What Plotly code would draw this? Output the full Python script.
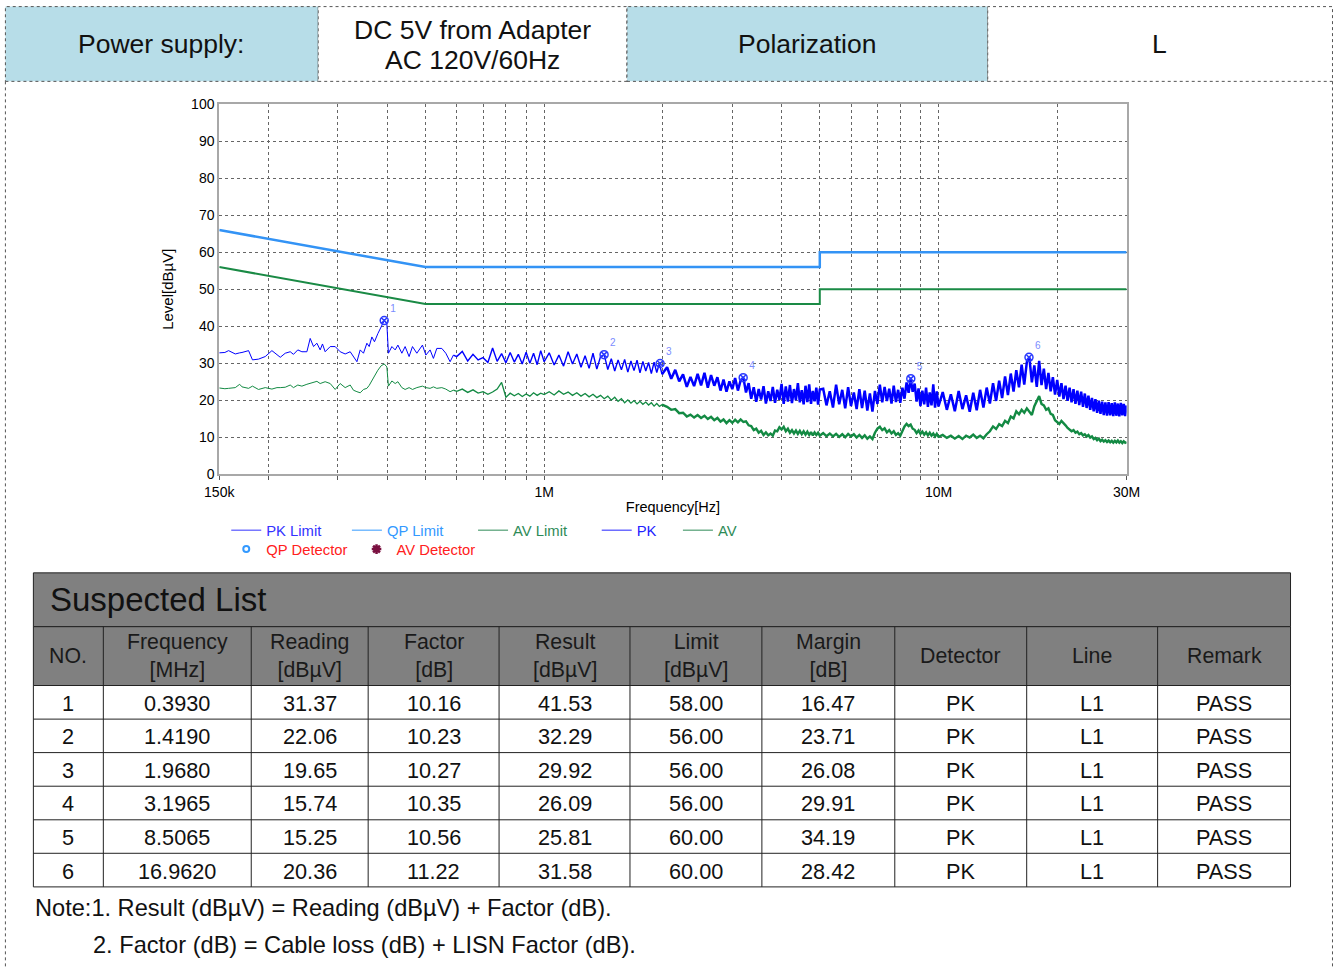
import plotly.graph_objects as go

W, H = 1338, 968
# the photographed page comes back slightly shrunk and centred; these undo that
SX, SY, DX, DY = 0.979, 0.9865, 14.6, 6.4
FONT = "Liberation Sans, Arial, sans-serif"

# ---- sweep data: frequency [MHz], level [dBuV] ----
freq_a = [0.1500, 0.1550, 0.1584, 0.1647, 0.1690, 0.1713, 0.1780, 0.1821, 0.1886, 0.1962,
          0.2040, 0.2101, 0.2142, 0.2205, 0.2270, 0.2314, 0.2373, 0.2430, 0.2502, 0.2551,
          0.2601, 0.2653, 0.2704, 0.2741, 0.2784, 0.2867, 0.2952, 0.3039, 0.3129, 0.3222,
          0.3284, 0.3351, 0.3416, 0.3482, 0.3552, 0.3600, 0.3657, 0.3713, 0.3787, 0.3860,
          0.3912, 0.3930, 0.3991, 0.4028, 0.4110, 0.4190, 0.4257, 0.4357, 0.4441, 0.4545,
          0.4635, 0.4755, 0.4913, 0.5012, 0.5138, 0.5238, 0.5343, 0.5501, 0.5631, 0.5774,
          0.5887]
pk_a = [32.8, 32.9, 33.4, 32.5, 32.8, 32.9, 33.4, 30.9, 31.1, 31.8,
        33.4, 32.2, 31.6, 32.7, 33.1, 32.4, 33.6, 33.1, 33.1, 36.7,
        34.5, 35.4, 33.6, 35.2, 33.1, 34.5, 34.5, 33.1, 32.5, 33.1,
        31.8, 30.4, 33.6, 32.7, 35.4, 34.5, 37.1, 35.8, 38.0, 39.8,
        41.0, 41.5, 40.7, 32.7, 34.5, 33.6, 34.9, 32.7, 34.5, 31.8,
        34.5, 32.7, 34.9, 32.2, 33.6, 31.3, 34.0, 34.0, 32.7, 30.4,
        32.2]
av_a = [23.3, 23.1, 23.2, 23.4, 24.3, 23.6, 23.2, 23.8, 22.9, 23.4,
        23.0, 23.4, 23.4, 23.5, 24.1, 23.4, 24.1, 23.8, 24.3, 24.5,
        24.7, 25.1, 24.5, 24.8, 25.0, 24.5, 22.9, 24.5, 23.4, 24.1,
        22.7, 22.3, 22.0, 22.9, 23.2, 24.0, 25.4, 26.5, 28.1, 29.3,
        29.7, 29.8, 29.0, 23.8, 25.2, 24.5, 25.0, 23.4, 22.9, 23.4,
        22.9, 23.4, 23.8, 23.4, 23.2, 23.6, 23.2, 23.4, 23.0, 22.3,
        22.7]

freq_b1 = [0.60, 0.62, 0.64, 0.66, 0.68, 0.70, 0.72, 0.74, 0.76, 0.78,
           0.80, 0.82, 0.84, 0.86, 0.88, 0.90, 0.92, 0.94, 0.96, 0.98, 1.00]
pk_b1 = [31.8, 33.2, 30.6, 32.4, 30.9, 31.5, 30.2, 34.1, 30.5, 32.6,
         30.1, 32.9, 30.3, 32.4, 29.8, 33.0, 30.0, 32.7, 29.6, 33.4, 30.4]
av_b1 = [22.4, 23.0, 22.1, 22.8, 21.9, 22.3, 21.6, 22.2, 23.0, 24.8,
         20.8, 21.9, 21.2, 21.8, 21.0, 21.7, 21.1, 22.0, 21.3, 21.9, 21.5]

freq_b2 = [1.03, 1.06, 1.09, 1.12, 1.15, 1.18, 1.21, 1.24, 1.27, 1.30,
           1.33, 1.36, 1.39, 1.42, 1.45, 1.48, 1.51, 1.54, 1.57, 1.60,
           1.63, 1.66, 1.69, 1.72, 1.75, 1.78, 1.81, 1.84, 1.87, 1.90,
           1.93, 1.96, 1.99]
pk_b2 = [32.8, 29.5, 32.2, 29.2, 33.1, 29.8, 32.5, 28.9, 32.0, 28.6,
         32.7, 28.4, 31.8, 32.3, 28.3, 31.2, 27.9, 30.9, 28.2, 31.0,
         27.6, 30.6, 28.0, 30.8, 27.4, 30.5, 27.9, 30.2, 27.2, 30.3,
         27.5, 29.9, 27.0]
av_b2 = [22.3, 21.4, 22.5, 21.6, 22.2, 21.3, 22.0, 21.1, 21.8, 20.9,
         21.6, 20.7, 21.3, 20.4, 21.1, 20.0, 20.8, 19.7, 20.4, 19.3,
         20.1, 19.2, 19.9, 19.0, 19.7, 18.9, 19.5, 18.7, 19.3, 18.4,
         19.1, 18.3, 18.8]

freq_c1 = [2.05, 2.10, 2.15, 2.20, 2.25, 2.30, 2.35, 2.40, 2.45, 2.50,
           2.55, 2.60, 2.65, 2.70, 2.75, 2.80, 2.85, 2.90, 2.95, 3.00,
           3.05, 3.10, 3.15, 3.20, 3.25, 3.30, 3.35, 3.40, 3.45, 3.50,
           3.55, 3.60, 3.65, 3.70, 3.75, 3.80, 3.85, 3.90, 3.95, 4.00,
           4.05, 4.10, 4.15, 4.20, 4.25, 4.30, 4.35, 4.40, 4.45, 4.50,
           4.55, 4.60, 4.65, 4.70, 4.75, 4.80, 4.85, 4.90, 4.95, 5.00]
pk_c1 = [28.9, 25.8, 28.2, 25.1, 27.0, 23.6, 26.3, 23.8, 27.1, 24.0,
         27.4, 23.4, 26.8, 23.9, 26.2, 22.6, 25.6, 22.3, 25.1, 23.0,
         26.0, 22.6, 25.4, 26.1, 22.1, 24.6, 20.4, 23.5, 19.6, 23.0,
         20.2, 23.8, 19.1, 22.4, 19.8, 23.6, 19.3, 22.8, 20.1, 24.4,
         19.0, 23.7, 19.6, 24.1, 19.2, 23.0, 20.0, 24.6, 19.4, 22.7,
         18.9, 23.9, 19.5, 24.3, 19.0, 22.5, 19.7, 23.4, 18.8, 22.9]
av_c1 = [18.2, 17.4, 17.6, 16.5, 16.6, 15.6, 16.1, 15.3, 16.0, 15.2,
         15.8, 14.9, 15.5, 14.6, 15.2, 14.2, 14.8, 13.8, 14.6, 13.9,
         14.7, 14.0, 14.8, 14.1, 14.3, 13.2, 13.0, 11.9, 12.3, 11.2,
         11.7, 10.6, 11.3, 10.5, 11.0, 10.4, 11.8, 11.6, 12.7, 12.1,
         12.8, 11.6, 12.3, 11.2, 11.9, 11.0, 11.8, 10.9, 11.7, 10.8,
         11.6, 10.7, 11.5, 10.6, 11.4, 10.5, 11.3, 10.6, 11.2, 10.4]

freq_c2 = [5.1, 5.2, 5.3, 5.4, 5.5, 5.6, 5.7, 5.8, 5.9, 6.0,
           6.1, 6.2, 6.3, 6.4, 6.5, 6.6, 6.7, 6.8, 6.9, 7.0,
           7.1, 7.2, 7.3, 7.4, 7.5, 7.6, 7.7, 7.8, 7.9, 8.0,
           8.1, 8.2, 8.3, 8.4, 8.5, 8.6, 8.7, 8.8, 8.9, 9.0,
           9.1, 9.2, 9.3, 9.4, 9.5, 9.6, 9.7, 9.8, 9.9, 10.0]
pk_c2 = [23.1, 18.6, 22.4, 18.0, 24.2, 18.9, 22.8, 17.8, 23.5, 18.4,
         22.1, 17.6, 23.0, 17.9, 22.6, 17.2, 21.8, 16.9, 22.5, 19.0,
         24.2, 19.4, 23.6, 19.8, 23.1, 19.1, 23.9, 19.5, 22.8, 19.3,
         23.4, 20.4, 24.8, 22.0, 25.8, 22.3, 24.5, 19.6, 23.2, 18.4,
         22.6, 18.9, 23.4, 18.2, 22.1, 18.6, 24.3, 18.0, 22.4, 18.3]
av_c2 = [11.1, 10.3, 11.0, 10.2, 10.9, 10.1, 10.8, 10.0, 10.9, 10.2,
         10.8, 9.9, 10.6, 9.8, 10.5, 9.6, 10.2, 9.5, 11.2, 12.3,
         12.8, 11.9, 12.4, 11.3, 11.9, 11.0, 11.6, 10.6, 11.1, 10.4,
         11.8, 12.9, 13.6, 13.0, 13.4, 12.3, 12.0, 11.1, 11.8, 10.9,
         11.5, 10.7, 11.3, 10.5, 11.2, 10.4, 11.0, 10.2, 10.9, 10.1]

freq_c3 = [10.25, 10.50, 10.75, 11.00, 11.25, 11.50, 11.75, 12.00, 12.25, 12.50,
           12.75, 13.00, 13.25, 13.50, 13.75, 14.00, 14.25, 14.50, 14.75, 15.00,
           15.25, 15.50, 15.75, 16.00, 16.25, 16.50, 16.75, 17.00, 17.25, 17.50,
           17.75, 18.00, 18.25, 18.50, 18.75, 19.00, 19.25, 19.50, 19.75, 20.00,
           20.25, 20.50, 20.75, 21.00, 21.25, 21.50, 21.75, 22.00, 22.25, 22.50,
           22.75, 23.00, 23.25, 23.50, 23.75, 24.00, 24.25, 24.50, 24.75, 25.00,
           25.25, 25.50, 25.75, 26.00, 26.25, 26.50, 26.75, 27.00, 27.25, 27.50,
           27.75, 28.00, 28.25, 28.50, 28.75, 29.00, 29.25, 29.50, 29.75, 30.00]
pk_c3 = [22.2, 17.4, 21.6, 17.0, 22.5, 17.6, 21.3, 16.9, 22.0, 17.3,
         22.8, 18.0, 23.4, 19.1, 24.6, 19.8, 25.3, 20.6, 26.4, 21.4,
         27.2, 22.3, 28.1, 23.5, 29.6, 24.2, 30.3, 31.6, 24.8, 29.4,
         23.6, 30.6, 24.1, 28.5, 23.0, 27.4, 22.4, 26.2, 21.5, 25.5,
         21.0, 24.6, 20.3, 23.9, 19.8, 23.4, 19.4, 23.0, 19.0, 22.6,
         18.7, 22.3, 18.2, 21.8, 17.9, 21.2, 17.4, 20.6, 17.0, 20.3,
         16.6, 19.9, 16.3, 19.6, 16.0, 19.4, 15.8, 19.5, 15.9, 19.2,
         15.7, 19.4, 15.8, 19.1, 15.6, 19.3, 15.9, 19.0, 15.7, 18.6]
av_c3 = [10.6, 9.8, 10.4, 9.6, 10.3, 9.5, 10.4, 9.9, 10.7, 9.8,
         10.4, 9.7, 10.8, 11.6, 12.9, 12.2, 13.5, 13.0, 14.4, 13.8,
         15.6, 15.1, 17.0, 16.2, 17.4, 16.6, 17.8, 16.9, 16.0, 18.4,
         19.6, 21.1, 19.0, 18.6, 17.4, 17.8, 16.3, 16.0, 14.6, 14.2,
         13.6, 14.4, 13.9, 13.2, 12.5, 12.1, 11.6, 11.9, 11.2, 11.5,
         10.8, 11.1, 10.5, 10.8, 10.2, 10.6, 9.9, 10.2, 9.5, 9.8,
         9.2, 9.6, 8.9, 9.3, 8.8, 9.2, 8.7, 9.1, 8.6, 9.0,
         8.5, 9.0, 8.6, 9.1, 8.5, 8.9, 8.4, 8.9, 8.5, 8.7]

# three pieces that share their end points so they join: sparse, medium and dense sweep
freq_mid = freq_a[-1:] + freq_b1 + freq_b2
pk_mid = pk_a[-1:] + pk_b1 + pk_b2
av_mid = av_a[-1:] + av_b1 + av_b2
freq_high = freq_b2[-1:] + freq_c1 + freq_c2 + freq_c3
pk_high = pk_b2[-1:] + pk_c1 + pk_c2 + pk_c3
av_high = av_b2[-1:] + av_c1 + av_c2 + av_c3

# limit lines (CISPR 32 class B conducted)
limit_freq = [0.15, 0.5, 5.0, 5.0, 30.0]
qp_limit = [66, 56, 56, 60, 60]
av_limit = [56, 46, 46, 50, 50]

# suspected list
sus_no = [1, 2, 3, 4, 5, 6]
sus_freq = [0.3930, 1.4190, 1.9680, 3.1965, 8.5065, 16.9620]
sus_reading = [31.37, 22.06, 19.65, 15.74, 15.25, 20.36]
sus_factor = [10.16, 10.23, 10.27, 10.35, 10.56, 11.22]
sus_result = [41.53, 32.29, 29.92, 26.09, 25.81, 31.58]
sus_limit = [58.00, 56.00, 56.00, 56.00, 60.00, 60.00]
sus_margin = [16.47, 23.71, 26.08, 29.91, 34.19, 28.42]
sus_detector = ["PK", "PK", "PK", "PK", "PK", "PK"]
sus_line = ["L1", "L1", "L1", "L1", "L1", "L1"]
sus_remark = ["PASS", "PASS", "PASS", "PASS", "PASS", "PASS"]

grid_mhz = [0.15, 0.2, 0.3, 0.4, 0.5, 0.6, 0.7, 0.8, 0.9, 1, 2, 3, 4, 5, 6, 7, 8, 9, 10, 20, 30]
grid_text = ["150k", "", "", "", "", "", "", "", "", "1M", "", "", "", "", "", "", "", "", "10M", "", "30M"]

table_heads = ["NO.", "Frequency<br>[MHz]", "Reading<br>[dBµV]", "Factor<br>[dB]", "Result<br>[dBµV]",
               "Limit<br>[dBµV]", "Margin<br>[dB]", "Detector", "Line", "Remark"]


def px(x):
    return ((x - DX) / SX) / W


def py(y):
    return 1 - ((y - DY) / SY) / H


def rect(x0, y0, x1, y1, fill=None, color="black", width=1, dash="solid", layer="below"):
    return dict(type="rect", xref="paper", yref="paper", x0=px(x0), x1=px(x1), y0=py(y1), y1=py(y0),
                fillcolor=fill or "rgba(0,0,0,0)", line=dict(color=color, width=width, dash=dash), layer=layer)


def line(x0, y0, x1, y1, color="black", width=1, dash="solid"):
    return dict(type="line", xref="paper", yref="paper", x0=px(x0), x1=px(x1), y0=py(y0), y1=py(y1),
                line=dict(color=color, width=width, dash=dash), layer="above")


def text(x, y, s, size, color="#111", xanchor="center"):
    return dict(x=px(x), y=py(y), xref="paper", yref="paper", text=s, showarrow=False,
                xanchor=xanchor, yanchor="middle", font=dict(size=size, color=color, family=FONT))


def legend_line(name, color, rank, gap):
    return go.Scatter(x=[None], y=[None], mode="lines", line=dict(color=color, width=1),
                      name=name + "\u00a0" * gap, legend="legend", legendrank=rank)


fig = go.Figure()

# plotted data
fig.add_trace(go.Scatter(x=limit_freq, y=qp_limit, mode="lines", line=dict(color="#3393f5", width=2.5),
                         showlegend=False))
fig.add_trace(go.Scatter(x=limit_freq, y=av_limit, mode="lines", line=dict(color="#1a8a45", width=2),
                         showlegend=False))
fig.add_trace(go.Scatter(x=freq_a, y=av_a, mode="lines", line=dict(color="#138a43", width=1), showlegend=False))
fig.add_trace(go.Scatter(x=freq_mid, y=av_mid, mode="lines", line=dict(color="#138a43", width=1.3),
                         showlegend=False))
fig.add_trace(go.Scatter(x=freq_high, y=av_high, mode="lines", line=dict(color="#138a43", width=2.4),
                         showlegend=False))
fig.add_trace(go.Scatter(x=freq_a, y=pk_a, mode="lines", line=dict(color="#0000ff", width=1), showlegend=False))
fig.add_trace(go.Scatter(x=freq_mid, y=pk_mid, mode="lines", line=dict(color="#0000ff", width=1.4),
                         showlegend=False))
fig.add_trace(go.Scatter(x=freq_high, y=pk_high, mode="lines", line=dict(color="#0000ff", width=2.5),
                         showlegend=False))
fig.add_trace(go.Scatter(x=sus_freq, y=sus_result, mode="markers+text", text=[str(n) for n in sus_no],
                         textposition="top right", textfont=dict(size=10, color="#7b8cff", family=FONT),
                         marker=dict(symbol="circle-x-open", size=8, color="#2a3aff", line=dict(width=1.5)),
                         showlegend=False, cliponaxis=False))

# legend entries
fig.add_trace(legend_line("<span style='color:#3333ff'>PK Limit</span>", "#3333ff", 1, 5))
fig.add_trace(legend_line("<span style='color:#3399ff'>QP Limit</span>", "#3399ff", 2, 6))
fig.add_trace(legend_line("<span style='color:#2e8b57'>AV Limit</span>", "#2e8b57", 3, 6))
fig.add_trace(legend_line("<span style='color:#2222ff'>PK</span>", "#2222ff", 4, 4))
fig.add_trace(legend_line("<span style='color:#2e8b57'>AV</span>", "#2e8b57", 5, 0))
fig.add_trace(go.Scatter(x=[None], y=[None], mode="markers",
                         marker=dict(symbol="circle-open", size=6, color="#3399ff", line=dict(width=2)),
                         name="<span style='color:#ff2020'>QP Detector</span>\u00a0", legend="legend2"))
fig.add_trace(go.Scatter(x=[None], y=[None], mode="markers",
                         marker=dict(symbol="asterisk-open", size=8, color="#7a1040", line=dict(width=2.5)),
                         name="<span style='color:#ff2020'>AV Detector</span>", legend="legend2"))

shapes = []
# header strip
hx = [5, 318, 627, 988, 1333]
hfill = ["#b7dde8", "white", "#b7dde8", "white"]
for i in range(4):
    shapes.append(rect(hx[i], 5, hx[i + 1], 80, fill=hfill[i], color="#555", dash="dot"))
# outer frame
shapes.append(line(5, 80, 5, 975, color="#555", dash="dot"))
shapes.append(line(1333, 80, 1333, 975, color="#555", dash="dot"))

# suspected list table
cx = [33, 103, 251, 368, 499, 630, 762, 895, 1027, 1158, 1291]
ry = [686, 719.7, 753.3, 787, 820.7, 854.3, 888]
shapes.append(rect(33, 573, 1291, 627, fill="#808080", color="#222"))
shapes.append(rect(33, 627, 1291, 686, fill="#808080", color="#222"))
shapes.append(rect(33, 686, 1291, 888, fill="white", color="#222"))
for x in cx[1:-1]:
    shapes.append(line(x, 627, x, 888, color="#222"))
for y in ry[1:-1]:
    shapes.append(line(33, y, 1291, y, color="#222"))

annotations = [
    text(161, 43, "Power supply:", 26.5),
    text(472, 28, "DC 5V from Adapter", 26.5),
    text(472, 59, "AC 120V/60Hz", 26.5),
    text(807, 43, "Polarization", 26.5),
    text(1160, 43, "L", 26.5),
    text(48, 600, "Suspected List", 33, xanchor="left"),
]
for i, s in enumerate(table_heads):
    annotations.append(text((cx[i] + cx[i + 1]) / 2, 656, s, 21.3, color="#1a1a1a"))

columns = [
    [str(n) for n in sus_no],
    [f"{v:.4f}" for v in sus_freq],
    [f"{v:.2f}" for v in sus_reading],
    [f"{v:.2f}" for v in sus_factor],
    [f"{v:.2f}" for v in sus_result],
    [f"{v:.2f}" for v in sus_limit],
    [f"{v:.2f}" for v in sus_margin],
    sus_detector,
    sus_line,
    sus_remark,
]
for c, col in enumerate(columns):
    for r, s in enumerate(col):
        annotations.append(text((cx[c] + cx[c + 1]) / 2, (ry[r] + ry[r + 1]) / 2 + 1, s, 21.7))

annotations.append(text(33, 909, "Note:1. Result (dBµV) = Reading (dBµV) + Factor (dB).", 23.6, xanchor="left"))
annotations.append(text(91, 946, "2. Factor (dB) = Cable loss (dB) + LISN Factor (dB).", 23.6, xanchor="left"))

legend_style = dict(orientation="h", xanchor="left", yanchor="top", bgcolor="rgba(0,0,0,0)",
                    font=dict(size=14.8, family=FONT), itemwidth=30, tracegroupgap=0)

fig.update_layout(
    width=W, height=H,
    margin=dict(l=0, r=0, t=0, b=0),
    paper_bgcolor="white", plot_bgcolor="white",
    font=dict(family=FONT, color="black"),
    xaxis=dict(type="log", range=[-0.8239, 1.4771], domain=[px(219), px(1127)],
               tickmode="array", tickvals=grid_mhz, ticktext=grid_text,
               showgrid=True, gridcolor="#666", griddash="dot", gridwidth=1,
               ticks="outside", ticklen=4, tickcolor="#555",
               showline=True, linecolor="#a8a8a8", linewidth=2, mirror=True, zeroline=False,
               tickfont=dict(size=14, color="black"),
               title=dict(text="Frequency[Hz]", font=dict(size=14.5), standoff=3)),
    yaxis=dict(range=[0, 100], domain=[py(474), py(103)], tickmode="linear", tick0=0, dtick=10,
               showgrid=True, gridcolor="#666", griddash="dot", gridwidth=1,
               showline=True, linecolor="#a8a8a8", linewidth=2, mirror=True, zeroline=False,
               ticks="", tickfont=dict(size=14, color="black"),
               title=dict(text="Level[dBµV]", font=dict(size=15), standoff=14)),
    legend=dict(x=px(226), y=py(514), **legend_style),
    legend2=dict(x=px(226), y=py(533), **legend_style),
    shapes=shapes,
    annotations=annotations,
)

fig.write_html("out.html", config={"displayModeBar": False},
               post_script="document.body.style.margin='0';")
